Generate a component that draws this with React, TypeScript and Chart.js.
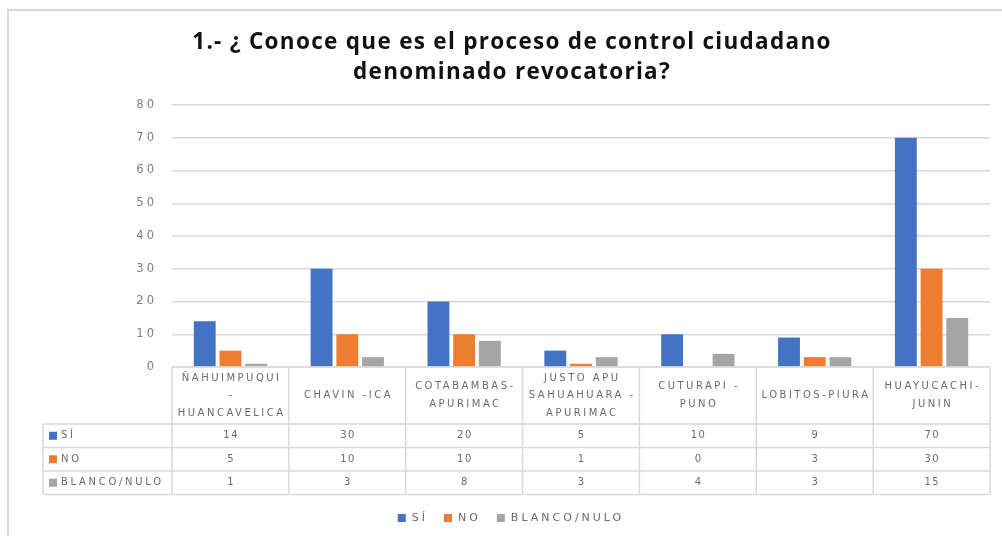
import React, { useEffect, useRef } from "react";
import { Chart, registerables } from "chart.js";

Chart.register(...registerables);

const categories: string[][] = [
  ["ÑAHUIMPUQUI", "-", "HUANCAVELICA"],
  ["CHAVIN -ICA"],
  ["COTABAMBAS-", "APURIMAC"],
  ["JUSTO APU", "SAHUAHUARA -", "APURIMAC"],
  ["CUTURAPI -", "PUNO"],
  ["LOBITOS-PIURA"],
  ["HUAYUCACHI-", "JUNIN"],
];
const siValues = [14, 30, 20, 5, 10, 9, 70];
const noValues = [5, 10, 10, 1, 0, 3, 30];
const blancoValues = [1, 3, 8, 3, 4, 3, 15];
const seriesLabels = ["SÍ", "NO", "BLANCO/NULO"];
const seriesColors = ["#4472C4", "#ED7D31", "#A5A5A5"];
const titleLines = ["1.- ¿ Conoce que es el proceso de control ciudadano", "denominado revocatoria?"];
const yMax = 80;
const yStep = 10;

const W = 1002;
const H = 536;
const GRID = "#D9D9D9";
const TEXT = "#6b6b6b";
const FONT = "DejaVu Sans";

const tablePlugin = {
  id: "tablePlugin",
  beforeDraw(chart: any) {
    const ctx = chart.ctx;
    ctx.save();
    ctx.fillStyle = "#ffffff";
    ctx.fillRect(0, 0, W, H);
    ctx.restore();
    ctx.letterSpacing = "3px";
  },
  afterDraw(chart: any) {
    const ctx: CanvasRenderingContext2D = chart.ctx;
    const x = chart.scales.x;
    const area = chart.chartArea;
    const n = chart.data.labels.length;
    const step = x.getPixelForValue(1) - x.getPixelForValue(0);
    const edges: number[] = [];
    for (let i = 0; i <= n; i++) edges.push(x.getPixelForValue(0) - step / 2 + i * step);
    const right = edges[n];
    const headTop = area.bottom;
    const headBottom = headTop + 57;
    const rowH = 23.5;
    const nRows = chart.data.datasets.length;
    const tableBottom = headBottom + rowH * nRows;
    const labelLeft = 43;

    ctx.save();
    // frame
    ctx.letterSpacing = "0px";
    ctx.strokeStyle = "#D9D9D9";
    ctx.lineWidth = 2;
    ctx.strokeRect(8, 10, W + 50, H + 50);

    // title
    ctx.fillStyle = "#111111";
    ctx.font = "bold 22.5px 'Open Sans'";
    ctx.letterSpacing = "1.3px";
    ctx.textAlign = "center";
    ctx.textBaseline = "middle";
    ctx.fillText(titleLines[0], 512, 43);
    ctx.fillText(titleLines[1], 512, 73);

    // table lines
    ctx.letterSpacing = "0px";
    ctx.strokeStyle = GRID;
    ctx.lineWidth = 1.5;
    ctx.beginPath();
    ctx.moveTo(edges[0], headTop);
    ctx.lineTo(right, headTop);
    for (let r = 0; r <= nRows; r++) {
      const yy = headBottom + r * rowH;
      ctx.moveTo(labelLeft, yy);
      ctx.lineTo(right, yy);
    }
    ctx.moveTo(labelLeft, headBottom);
    ctx.lineTo(labelLeft, tableBottom);
    for (let i = 0; i <= n; i++) {
      ctx.moveTo(edges[i], headTop);
      ctx.lineTo(edges[i], tableBottom);
    }
    ctx.stroke();

    // header labels
    ctx.fillStyle = TEXT;
    ctx.font = `10px '${FONT}'`;
    ctx.letterSpacing = "2.5px";
    ctx.textAlign = "center";
    ctx.textBaseline = "middle";
    const headMid = (headTop + headBottom) / 2;
    const lh = 17.5;
    chart.data.labels.forEach((lab: string[], i: number) => {
      const cx = (edges[i] + edges[i + 1]) / 2 + 1.25;
      lab.forEach((line, k) => {
        const yy = headMid + (k - (lab.length - 1) / 2) * lh;
        ctx.fillText(line, cx, yy);
      });
    });

    // rows
    chart.data.datasets.forEach((ds: any, r: number) => {
      const yy = headBottom + r * rowH + rowH / 2;
      ctx.fillStyle = ds.backgroundColor;
      ctx.fillRect(49, yy - 4, 8, 8);
      ctx.fillStyle = TEXT;
      ctx.font = `10px '${FONT}'`;
      ctx.letterSpacing = "2.7px";
      ctx.textAlign = "left";
      ctx.fillText(ds.label, 61, yy);
      ctx.letterSpacing = "1.5px";
      ctx.textAlign = "center";
      ds.data.forEach((v: number, i: number) => {
        const cx = (edges[i] + edges[i + 1]) / 2 + 0.75;
        ctx.fillText(String(v), cx, yy);
      });
    });

    // legend
    ctx.font = `11px '${FONT}'`;
    ctx.letterSpacing = "3px";
    ctx.textAlign = "left";
    const widths = chart.data.datasets.map((ds: any) => ctx.measureText(ds.label).width);
    const box = 8;
    const gapBox = 6;
    const gapItem = 16;
    let total = 0;
    widths.forEach((w: number, i: number) => {
      total += box + gapBox + w + (i < widths.length - 1 ? gapItem : 0);
    });
    let lx = 511 - total / 2;
    const ly = 518;
    chart.data.datasets.forEach((ds: any, i: number) => {
      ctx.fillStyle = ds.backgroundColor;
      ctx.fillRect(lx, ly - 4, box, box);
      lx += box + gapBox;
      ctx.fillStyle = TEXT;
      ctx.fillText(ds.label, lx, ly);
      lx += widths[i] + gapItem;
    });
    ctx.restore();
  },
};

export default function App() {
  const ref = useRef<HTMLCanvasElement | null>(null);
  useEffect(() => {
    if (!ref.current) return;
    const chart = new Chart(ref.current, {
      type: "bar",
      data: {
        labels: categories as any,
        datasets: [
          { label: seriesLabels[0], data: siValues, backgroundColor: seriesColors[0] },
          { label: seriesLabels[1], data: noValues, backgroundColor: seriesColors[1] },
          { label: seriesLabels[2], data: blancoValues, backgroundColor: seriesColors[2] },
        ],
      },
      options: {
        responsive: false,
        animation: false,
        layout: { padding: { left: 0, right: 12, top: 105, bottom: 169 } },
        datasets: { bar: { barPercentage: 0.85, categoryPercentage: 0.66 } },
        plugins: { legend: { display: false }, title: { display: false }, tooltip: { enabled: false } },
        scales: {
          x: { display: false },
          y: {
            min: 0,
            max: yMax,
            afterFit: (s: any) => {
              s.width = 172;
            },
            border: { display: false },
            grid: { color: GRID, lineWidth: 1.5, drawTicks: false },
            ticks: {
              stepSize: yStep,
              padding: 15,
              color: "#7f7f7f",
              font: { family: FONT, size: 11.5 },
            },
          },
        },
      },
      plugins: [tablePlugin],
    });
    return () => chart.destroy();
  }, []);
  return (
    <div style={{ position: "fixed", left: 0, top: 0, width: W, height: H, background: "#fff" }}>
      <canvas ref={ref} width={W} height={H} style={{ display: "block" }} />
    </div>
  );
}
